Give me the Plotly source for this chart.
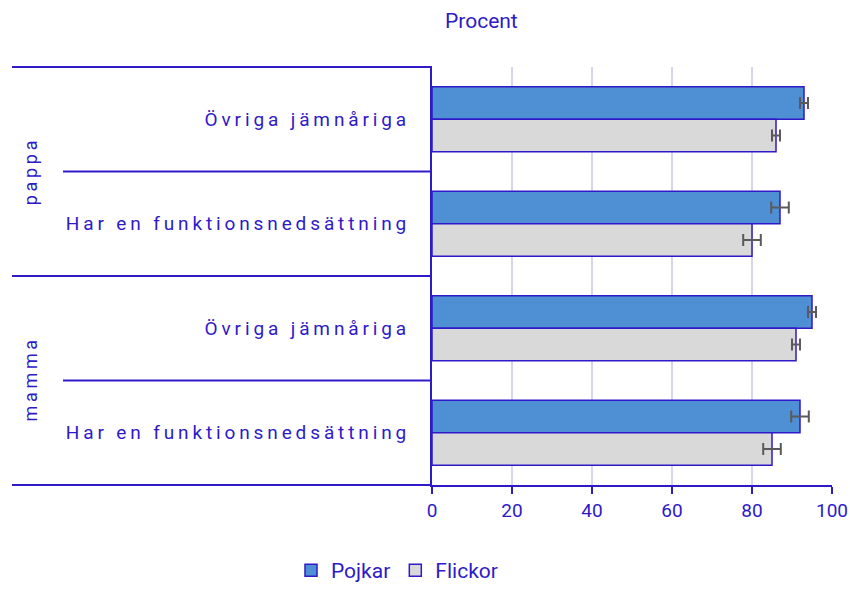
import plotly.graph_objects as go

# data
grupper = ["pappa", "pappa", "mamma", "mamma"]
kategorier = ["Övriga jämnåriga", "Har en funktionsnedsättning",
              "Övriga jämnåriga", "Har en funktionsnedsättning"]
pojkar = [93, 87, 95, 92]
pojkar_fel = [1.0, 2.2, 1.0, 2.2]
flickor = [86, 80, 91, 85]
flickor_fel = [1.0, 2.2, 1.0, 2.2]

BLUE = "#2e1ac8"
FONT = "Roboto"


def spaced(s):
    # the original has wide letter spacing
    return "\u2009".join(s)


ids = [f"{g}|{k}" for g, k in zip(grupper, kategorier)]

fig = go.Figure()
fig.add_trace(go.Bar(
    y=ids, x=pojkar, name="Pojkar", orientation="h",
    marker=dict(color="#4f8fd3", line=dict(color=BLUE, width=1.5)),
    error_x=dict(type="data", array=pojkar_fel, color="#5a5a5a", thickness=2, width=6),
))
fig.add_trace(go.Bar(
    y=ids, x=flickor, name="Flickor", orientation="h",
    marker=dict(color="#d9d9d9", line=dict(color=BLUE, width=1.5)),
    error_x=dict(type="data", array=flickor_fel, color="#5a5a5a", thickness=2, width=6),
))

# divider lines to the left of the plot
for yy, x0 in [(1, -1.05), (0.75, -0.9225), (0.5, -1.05), (0.25, -0.9225), (0, -1.05)]:
    fig.add_shape(type="line", xref="paper", yref="paper", x0=x0, x1=0, y0=yy, y1=yy,
                  line=dict(color=BLUE, width=2))

# group labels (rotated)
for g, yy in [("pappa", 0.746), ("mamma", 0.25)]:
    fig.add_annotation(text=spaced(g), xref="paper", yref="paper", x=-1.005, y=yy,
                       xanchor="center", yanchor="middle",
                       textangle=-90, showarrow=False,
                       font=dict(family=FONT, size=18, color=BLUE))

fig.add_annotation(text="Procent", xref="paper", yref="paper", x=0.1225, y=1.11,
                   xanchor="center", yanchor="middle",
                   showarrow=False, font=dict(family=FONT, size=21, color=BLUE))

fig.update_layout(
    width=850, height=591,
    margin=dict(l=432, r=18, t=67, b=106, autoexpand=False),
    plot_bgcolor="white", paper_bgcolor="white",
    barmode="group", bargap=0.38, bargroupgap=0,
    font=dict(family=FONT, size=18, color=BLUE),
    showlegend=True,
    legend=dict(orientation="h", x=-0.0875, xanchor="center", y=-0.2536, yanchor="bottom",
                font=dict(family=FONT, size=21, color=BLUE), itemwidth=30,
                traceorder="normal"),
    xaxis=dict(range=[0, 100], tickvals=[0, 20, 40, 60, 80, 100],
               showgrid=True, gridcolor="#d6d6f2", gridwidth=2,
               showline=True, linecolor=BLUE, linewidth=2,
               ticks="outside", ticklen=7, tickcolor=BLUE, tickwidth=2,
               zeroline=False, automargin=False, ticklabeloverflow="allow",
               tickfont=dict(size=19, color=BLUE)),
    yaxis=dict(autorange="reversed", tickvals=ids,
               ticktext=[spaced(k) for k in kategorier],
               showline=True, linecolor=BLUE, linewidth=2,
               ticks="", ticklabelstandoff=20, showgrid=False, automargin=False,
               tickfont=dict(size=19, color=BLUE)),
)

# drop the default 8px page margin so the figure fills the window
fig.write_html("out.html", config={"displayModeBar": False},
               post_script="document.body.style.margin='0';")
